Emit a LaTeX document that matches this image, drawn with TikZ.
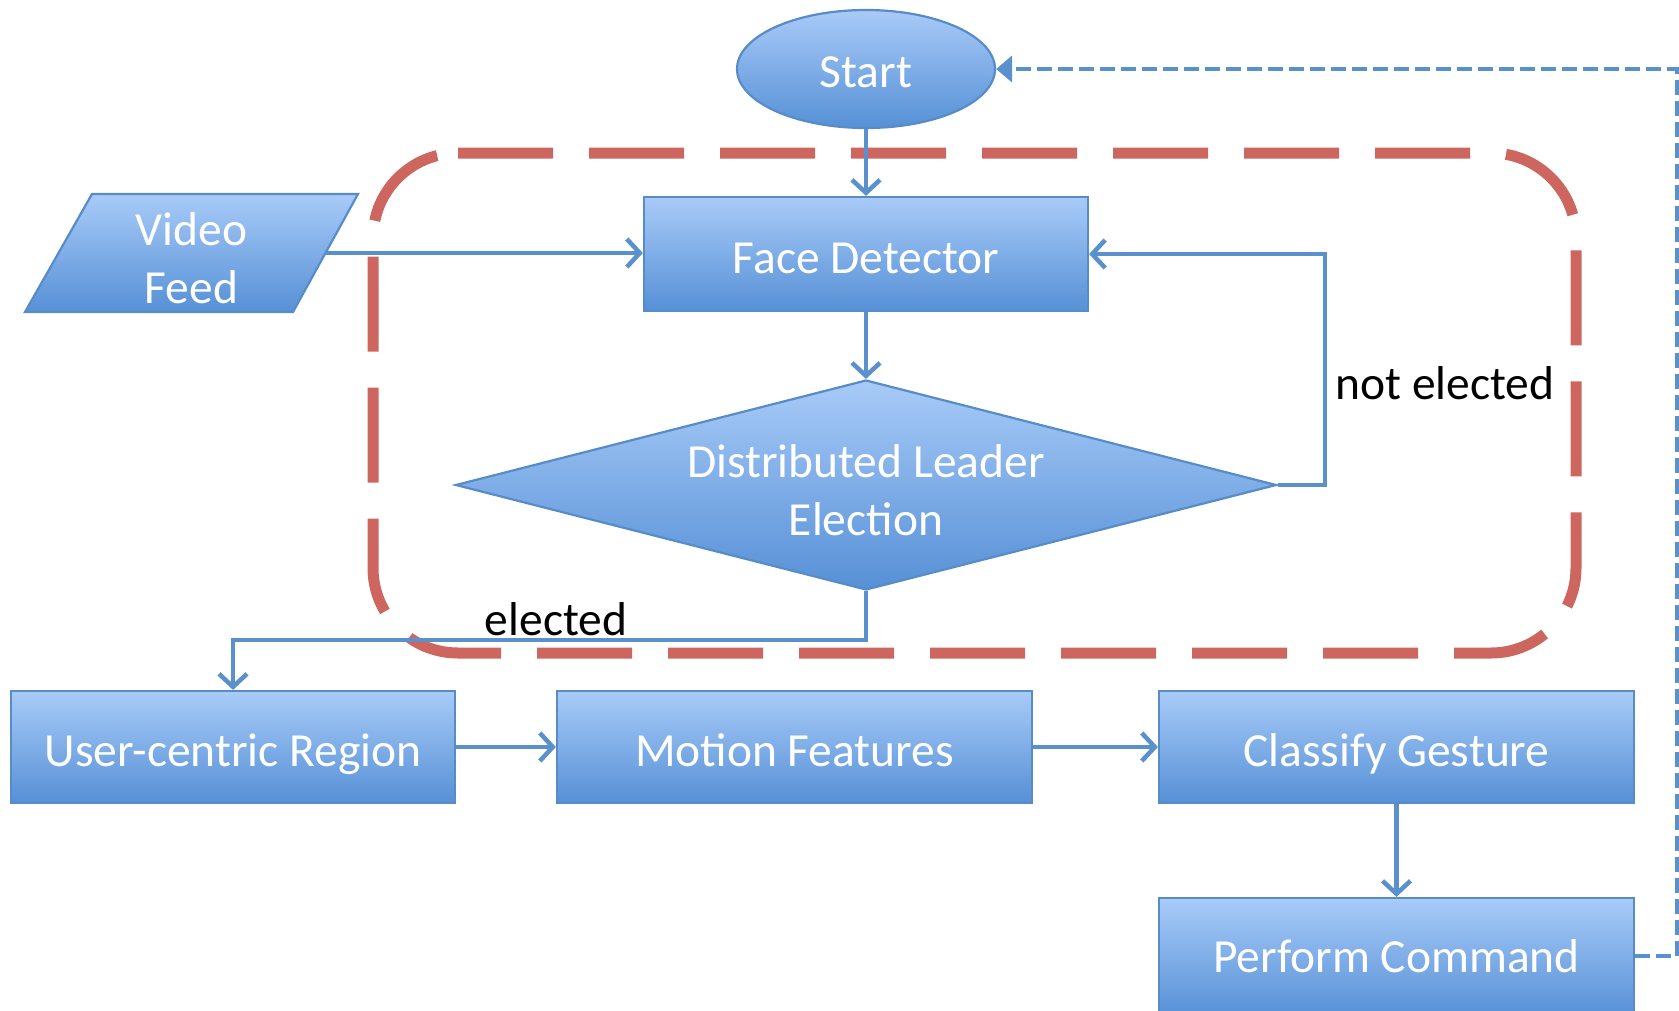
\documentclass[tikz,border=0pt]{standalone}
\usepackage{fontspec}
\setmainfont{Carlito}
\usetikzlibrary{arrows.meta,shapes.geometric,calc}
\definecolor{boxtop}{RGB}{168,203,248}
\definecolor{boxbot}{RGB}{86,144,214}
\definecolor{boxline}{RGB}{88,140,200}
\definecolor{flowc}{RGB}{90,145,204}
\definecolor{redd}{RGB}{206,102,96}
\begin{document}
\begin{tikzpicture}[x=1pt,y=-1pt,
  shp/.style={draw=boxline, line width=2.2pt, top color=boxtop, bottom color=boxbot,
    text=white, inner sep=0pt, align=center, font=\fontsize{47.5}{58}\selectfont},
  boxr/.style={shp, rectangle, text height=39pt, text depth=0pt},
  wtxt/.style={text=white, inner sep=0pt, align=center, font=\fontsize{47.5}{58}\selectfont},
  flow/.style={draw=flowc, line width=4.5pt, -{Straight Barb[length=13pt,width=28pt]}},
  retflow/.style={draw=flowc, line width=4.5pt, dash pattern=on 15pt off 6pt, -{Triangle[length=16pt,width=26pt]}},
  lbl/.style={text=black, inner sep=0pt, font=\fontsize{47.5}{58}\selectfont}]
\useasboundingbox (0,0) rectangle (1679,1010);

% red dashed group
\draw[redd, line width=11pt, dash pattern=on 95pt off 36pt, rounded corners=85pt]
  (458,153) -- (1576,153) -- (1576,653) -- (373,653) -- (373,153) -- (458,153);

% video feed parallelogram
\path[shp] (92,194) -- (358,194) -- (293,312) -- (25,312) -- cycle;
\node[wtxt] (vf) at (191.5,258) {Video\\Feed};
\coordinate (vfe) at (326,253);

% nodes
\node[shp, ellipse, minimum width=258pt, minimum height=118pt, text height=37pt, text depth=0pt] (start) at (866,69) {Start};
\node[boxr, minimum width=444pt, minimum height=114pt] (fd) at (866,254) {Face Detector};
\node[shp, diamond, minimum width=821pt, minimum height=210pt] (dle) at (866,485) {};
\node[wtxt] (dlet) at (866,490) {Distributed Leader\\Election};
\node[boxr, minimum width=444pt, minimum height=112pt] (ucr) at (233,747) {User-centric Region};
\node[boxr, minimum width=475pt, minimum height=112pt] (mf) at (794.5,747) {Motion Features};
\node[boxr, minimum width=475pt, minimum height=112pt] (cg) at (1396.5,747) {Classify Gesture};
\node[boxr, minimum width=475pt, minimum height=120pt, text height=28pt] (pc) at (1396.5,958) {Perform Command};

\node[lbl] (ne) at (1445,383) {not elected};
\node[lbl] (el) at (556,619) {elected};

\coordinate (loopc) at (1325,485);
\coordinate (elbow) at (866,640);
\coordinate (retc) at (1677,956);

% connectors
\draw[flow] (start.south) -- (fd.north);
\draw[flow] (fd.south) -- (dle.north);
\draw[flow] (vfe) -- (fd.west |- vfe);
\draw[flow] (dle.east) -- (loopc) |- (fd.east);
\draw[flow] (dle.south) -- (elbow) -| (ucr.north);
\draw[flow] (ucr.east) -- (mf.west);
\draw[flow] (mf.east) -- (cg.west);
\draw[flow] (cg.south) -- (pc.north);
\draw[retflow] (pc.east |- retc) -- (retc) |- (start.east);
\end{tikzpicture}
\end{document}
